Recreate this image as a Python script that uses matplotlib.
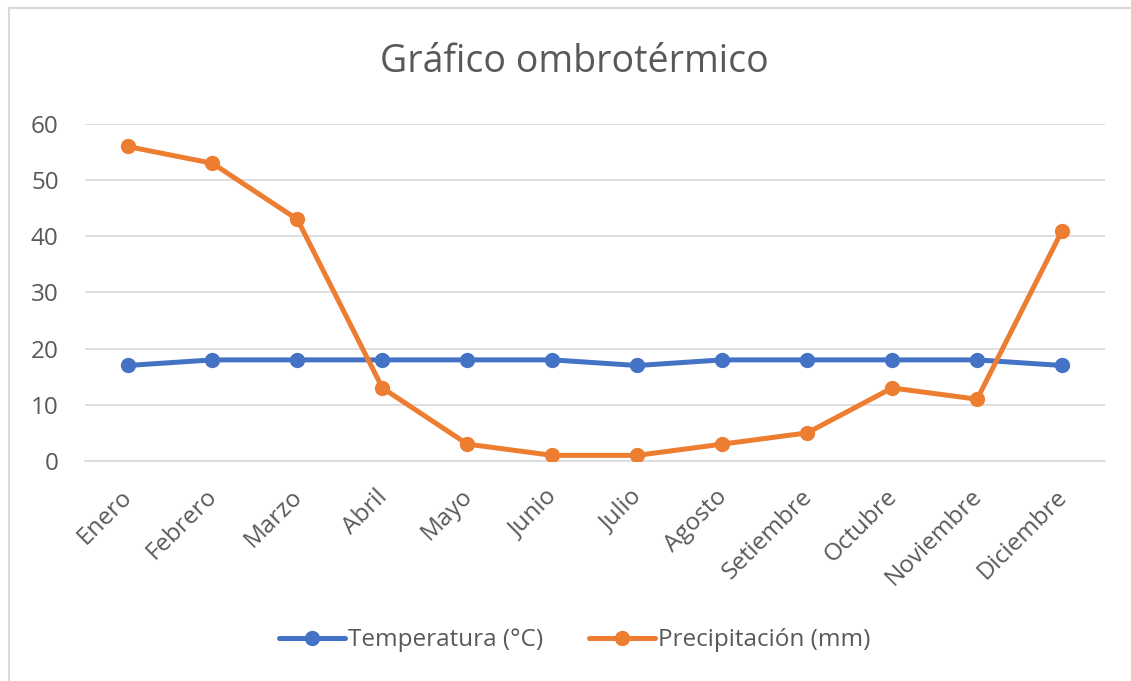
import matplotlib.pyplot as plt
from matplotlib.patches import Rectangle
from matplotlib.transforms import ScaledTranslation

meses = ["Enero", "Febrero", "Marzo", "Abril", "Mayo", "Junio", "Julio",
         "Agosto", "Setiembre", "Octubre", "Noviembre", "Diciembre"]
temperatura = [17, 18, 18, 18, 18, 18, 17, 18, 18, 18, 18, 17]
precipitacion = [56, 53, 43, 13, 3, 1, 1, 3, 5, 13, 11, 41]
y_ticks = [0, 10, 20, 30, 40, 50, 60]

AZUL = "#4472C4"
NARANJA = "#ED7D31"
GRIS_TEXTO = "#595959"

plt.rcParams["font.family"] = ["Open Sans", "DejaVu Sans"]

fig = plt.figure(figsize=(11.31, 6.81), dpi=100)
ax = fig.add_axes([0.0752, 0.3231, 0.9014, 0.4948])

# marco del area del grafico
fig.patches.append(Rectangle((9 / 1131, -0.1), 1.2, 1 - 8 / 681 + 0.1,
                             transform=fig.transFigure, fill=False,
                             edgecolor="#D9D9D9", linewidth=1.5))

x = list(range(len(meses)))
ax.plot(x, temperatura, color=AZUL, lw=3.6, marker="o", ms=10,
        label="Temperatura (°C)", solid_capstyle="round", zorder=3)
ax.plot(x, precipitacion, color=NARANJA, lw=3.6, marker="o", ms=10,
        label="Precipitación (mm)", solid_capstyle="round", zorder=4)

ax.set_xlim(-0.5, len(meses) - 0.5)
ax.set_ylim(0, 60)
ax.set_yticks(y_ticks)
ax.set_xticks(x)
ax.set_xticklabels(meses, rotation=45, ha="right", rotation_mode="anchor")
ax.tick_params(axis="both", length=0, colors=GRIS_TEXTO, labelsize=17.5)
ax.tick_params(axis="y", pad=19)
ax.tick_params(axis="x", pad=12)

# desplazar un poco las etiquetas de los meses hacia la izquierda y abajo
desplazamiento = ScaledTranslation(-0.07, -0.07, fig.dpi_scale_trans)
for etiqueta in ax.get_xticklabels():
    etiqueta.set_transform(etiqueta.get_transform() + desplazamiento)

ax.grid(axis="y", color="#D9D9D9", lw=1.2)
ax.set_axisbelow(True)
for side in ["top", "right", "left"]:
    ax.spines[side].set_visible(False)
ax.spines["bottom"].set_color("#D9D9D9")
ax.spines["bottom"].set_linewidth(1.2)

fig.text(0.508, 0.909, "Gráfico ombrotérmico", ha="center", va="center",
         fontsize=27, color=GRIS_TEXTO)

fig.legend(loc="center", bbox_to_anchor=(0.508, 0.06), ncol=2, frameon=False,
           fontsize=17.5, labelcolor=GRIS_TEXTO, handlelength=2.7,
           handletextpad=0.12, columnspacing=1.9)

fig.savefig("out.png", dpi=100)
